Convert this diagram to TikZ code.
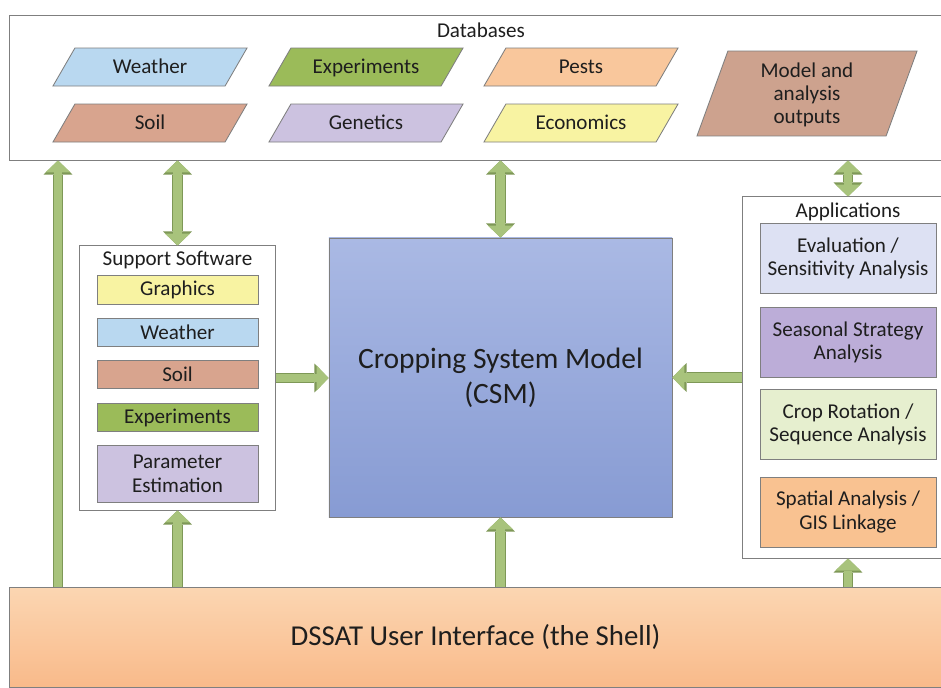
\documentclass[tikz,border=0pt]{standalone}
\usepackage{fontspec}
\setmainfont{Carlito}
\usetikzlibrary{shapes.geometric,arrows.meta}

\definecolor{edgegray}{HTML}{7F7F7F}
\definecolor{inkgray}{HTML}{1E1E1E}
\definecolor{arrowfill}{HTML}{A8C37C}
\definecolor{arrowedge}{HTML}{7E9857}
\definecolor{weatherblue}{HTML}{B9D8F0}
\definecolor{expgreen}{HTML}{9BBB59}
\definecolor{pestorange}{HTML}{F9C79C}
\definecolor{soilbrown}{HTML}{D8A48E}
\definecolor{genlilac}{HTML}{CCC2E0}
\definecolor{econyellow}{HTML}{F8F3A2}
\definecolor{outbrown}{HTML}{CDA28E}
\definecolor{evalblue}{HTML}{DDE1F3}
\definecolor{seaspurple}{HTML}{BCADD8}
\definecolor{cropgreen}{HTML}{E6EFCF}
\definecolor{spatorange}{HTML}{F9C291}

\tikzset{
  every node/.style={text=inkgray},
  frame/.style={draw=edgegray, line width=0.7pt, fill=white, inner sep=0pt},
  para/.style={trapezium, trapezium left angle=60, trapezium right angle=120,
    trapezium stretches body, draw=edgegray, line width=0.6pt,
    minimum width=4.85cm, inner sep=0pt, text height=0.645cm, text depth=0.305cm,
    font=\fontsize{15}{17}\selectfont},
  tool/.style={draw=edgegray, line width=0.6pt, minimum width=4.025cm,
    minimum height=0.72cm, inner sep=0pt, align=center,
    font=\fontsize{15}{17}\selectfont},
  app/.style={draw=edgegray, line width=0.6pt, minimum width=4.4cm,
    minimum height=1.75cm, inner sep=0pt, align=center,
    font=\fontsize{15}{16.5}\selectfont},
  fatone/.style={draw=arrowfill, line width=6.2pt,
    -{Triangle[width=18pt,length=8.5pt,line width=0pt]},
    preaction={draw=arrowedge, line width=7.8pt,
      -{Triangle[width=20.5pt,length=10pt,line width=0pt]}}},
  fattwo/.style={draw=arrowfill, line width=6.2pt,
    {Triangle[width=18pt,length=8.5pt,line width=0pt]}-{Triangle[width=18pt,length=8.5pt,line width=0pt]},
    preaction={draw=arrowedge, line width=7.8pt,
      {Triangle[width=20.5pt,length=10pt,line width=0pt]}-{Triangle[width=20.5pt,length=10pt,line width=0pt]}}}
}

\begin{document}
\begin{tikzpicture}[x=0.025cm,y=-0.025cm]
\useasboundingbox[fill=white] (0,0) rectangle (941,687);

% databases
\node[frame, minimum width=23.275cm, minimum height=3.6cm] (db) at (475.5,88) {};
\node[font=\fontsize{15}{17}\selectfont] (dbtitle) at (481,30) {Databases};
\node[para, fill=weatherblue] (dbweather) at (150,67) {Weather};
\node[para, fill=expgreen] (dbexp) at (366,67) {Experiments};
\node[para, fill=pestorange] (dbpests) at (581,67) {Pests};
\node[para, fill=soilbrown] (dbsoil) at (150,123) {Soil};
\node[para, fill=genlilac] (dbgen) at (366,123) {Genetics};
\node[para, fill=econyellow] (dbecon) at (581,123) {Economics};
\node[para, fill=outbrown, trapezium left angle=70, trapezium right angle=110,
  minimum width=5.5cm, text height=51.85pt, text depth=8.55pt, align=center,
  font=\fontsize{15}{16.5}\selectfont] (dbout) at (807,93.5) {Model and\\analysis\\outputs};

% support software
\node[frame, minimum width=4.875cm, minimum height=6.6cm] (sw) at (177.5,378) {};
\node[font=\fontsize{15}{17}\selectfont] (swtitle) at (177.5,260) {Support Software};
\node[tool, fill=econyellow] (swgraph) at (177.5,290) {Graphics};
\node[tool, fill=weatherblue] (swweather) at (177.5,332.5) {Weather};
\node[tool, fill=soilbrown] (swsoil) at (177.5,374.5) {Soil};
\node[tool, fill=expgreen] (swexp) at (177.5,417.5) {Experiments};
\node[tool, fill=genlilac, minimum height=1.425cm] (swparam) at (177.5,473.5) {Parameter\\Estimation};

% model
\node[draw=edgegray, line width=0.6pt,
  top color={rgb,255:red,170;green,185;blue,228}, bottom color={rgb,255:red,135;green,155;blue,211},
  minimum width=8.575cm, minimum height=6.975cm, align=center,
  font=\fontsize{21}{25}\selectfont] (csm) at (500.5,377.5) {Cropping System Model\\(CSM)};

% applications
\node[frame, minimum width=4.95cm, minimum height=9.025cm] (apps) at (842,377.5) {};
\node[font=\fontsize{15}{17}\selectfont] (appstitle) at (848,212) {Applications};
\node[app, fill=evalblue] (appeval) at (848,258) {Evaluation /\\Sensitivity Analysis};
\node[app, fill=seaspurple] (appseas) at (848,342) {Seasonal Strategy\\Analysis};
\node[app, fill=cropgreen] (appcrop) at (848,424.5) {Crop Rotation /\\Sequence Analysis};
\node[app, fill=spatorange] (appspat) at (848,512) {Spatial Analysis /\\GIS Linkage};

% shell
\node[draw=edgegray, line width=0.6pt, top color={rgb,255:red,251;green,214;blue,178},
  bottom color={rgb,255:red,249;green,186;blue,138},
  minimum width=23.275cm, minimum height=2.5cm,
  font=\fontsize{20.5}{24}\selectfont] (shell) at (475.5,637) {DSSAT User Interface (the Shell)};

% arrows
\coordinate (leftx) at (58,0);
\draw[fatone] (leftx |- shell.north) -- (leftx |- db.south);
\draw[fattwo] (sw.north) -- (sw.north |- db.south);
\draw[fatone] (sw.south |- shell.north) -- (sw.south);
\draw[fatone] (sw.east) -- (sw.east -| csm.west);
\draw[fattwo] (csm.north) -- (csm.north |- db.south);
\draw[fatone] (csm.south |- shell.north) -- (csm.south);
\draw[fatone] (apps.west) -- (apps.west -| csm.east);
\draw[fattwo] (appeval.north |- apps.north) -- (appeval.north |- db.south);
\draw[fatone] (appeval.north |- shell.north) -- (appeval.north |- apps.south);
\end{tikzpicture}
\end{document}
